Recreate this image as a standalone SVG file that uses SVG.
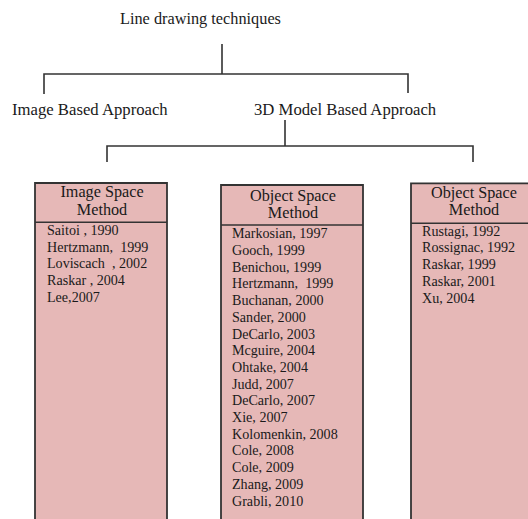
<svg xmlns="http://www.w3.org/2000/svg" width="528" height="519" viewBox="0 0 528 519">
<style>
text{font-family:"Liberation Serif","Times New Roman",serif;fill:#1a1a1a}
.t{font-size:16.3px}
.s{font-size:16.7px}
.h{font-size:16.2px;text-anchor:middle}
.e{font-size:14.1px}
.ln{stroke:#333;stroke-width:1.6;fill:none}
.box{fill:#e6b8b7;stroke:#333;stroke-width:1.8}
</style>
<rect width="528" height="519" fill="#fff"/>
<g id="connectors">
<path class="ln" d="M222 44V74M44 94V74H408V93"/>
<path class="ln" d="M285 120V146M107 162V146H473V162"/>
<path class="ln" d="M288 208V225"/>
</g>
<g id="root"><text class="t" x="120" y="24">Line drawing techniques</text></g>
<g id="image-based"><text class="s" x="12" y="115">Image Based Approach</text></g>
<g id="model-based"><text class="s" x="254" y="115">3D Model Based Approach</text></g>
<g id="image-space">
<path class="box" d="M35 519V183H167V519"/>
<path class="ln" d="M35 222.3H167"/>
<text class="h" x="102" y="197">Image Space</text>
<text class="h" x="102" y="215">Method</text>
<text class="e" x="47" y="235">Saitoi , 1990</text>
<text class="e" x="47" y="251.7">Hertzmann,&#160; 1999</text>
<text class="e" x="47" y="268.4">Loviscach&#160; , 2002</text>
<text class="e" x="47" y="285.1">Raskar , 2004</text>
<text class="e" x="47" y="301.8">Lee,2007</text>
</g>
<g id="object-space-1">
<path class="box" d="M221 519V185H363V519"/>
<path class="ln" d="M221 225H363"/>
<text class="h" x="293" y="200.5">Object Space</text>
<text class="h" x="293" y="218">Method</text>
<text class="e" x="232" y="238.3">Markosian, 1997</text>
<text class="e" x="232" y="255">Gooch, 1999</text>
<text class="e" x="232" y="271.7">Benichou, 1999</text>
<text class="e" x="232" y="288.4">Hertzmann,&#160; 1999</text>
<text class="e" x="232" y="305.1">Buchanan, 2000</text>
<text class="e" x="232" y="321.8">Sander, 2000</text>
<text class="e" x="232" y="338.5">DeCarlo, 2003</text>
<text class="e" x="232" y="355.2">Mcguire, 2004</text>
<text class="e" x="232" y="371.9">Ohtake, 2004</text>
<text class="e" x="232" y="388.6">Judd, 2007</text>
<text class="e" x="232" y="405.3">DeCarlo, 2007</text>
<text class="e" x="232" y="422">Xie, 2007</text>
<text class="e" x="232" y="438.7">Kolomenkin, 2008</text>
<text class="e" x="232" y="455.4">Cole, 2008</text>
<text class="e" x="232" y="472.1">Cole, 2009</text>
<text class="e" x="232" y="488.8">Zhang, 2009</text>
<text class="e" x="232" y="505.5">Grabli, 2010</text>
</g>
<g id="object-space-2">
<path class="box" d="M411 519V183.3H530V519"/>
<path class="ln" d="M411 223.3H530"/>
<text class="h" x="474" y="198">Object Space</text>
<text class="h" x="474" y="215">Method</text>
<text class="e" x="422" y="235.7">Rustagi, 1992</text>
<text class="e" x="422" y="252.4">Rossignac, 1992</text>
<text class="e" x="422" y="269.1">Raskar, 1999</text>
<text class="e" x="422" y="285.8">Raskar, 2001</text>
<text class="e" x="422" y="302.5">Xu, 2004</text>
</g>
</svg>
